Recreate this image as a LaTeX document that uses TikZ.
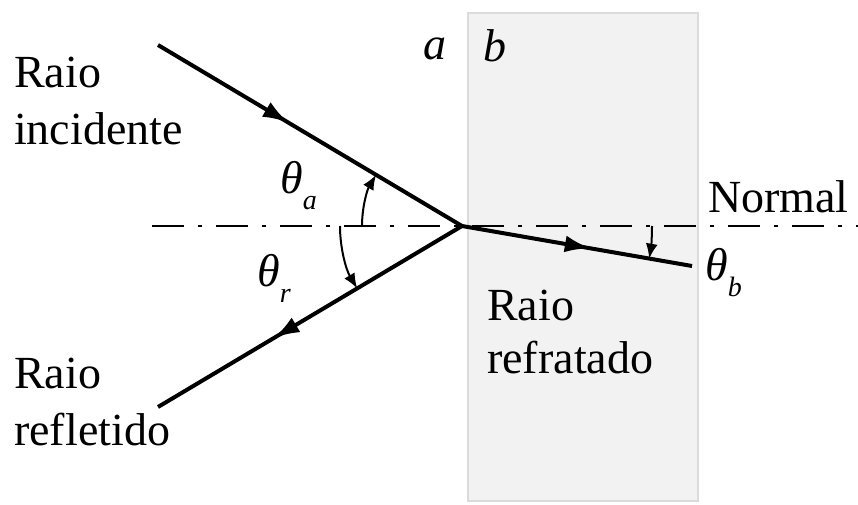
\documentclass[tikz,border=0pt]{standalone}
\usepackage{fontspec}
\setmainfont{Liberation Serif}
\usetikzlibrary{arrows.meta,decorations.markings}
\begin{document}
\begin{tikzpicture}[x=1pt,y=1pt,
  ray/.style={line width=4pt},
  midarrow/.style={postaction={decorate,decoration={markings,
     mark=at position #1 with {\arrow{Latex[length=26pt,width=17pt]}}}}},
  anglearc/.style={line width=2pt,-{Latex[length=15pt,width=12pt]}},
  lbl/.style={anchor=base west,inner sep=0pt,font=\fontsize{46}{55}\selectfont},
  normalline/.style={line width=2.4pt,dash pattern=on 32pt off 14pt on 4pt off 14pt}]
\useasboundingbox (0,0) rectangle (858,504);
% medium b
\node[draw=black!14,fill=black!5,line width=2pt,minimum width=230pt,minimum height=488pt,inner sep=0pt,anchor=south west] (box) at (467,2) {};
% points
\coordinate (I) at (462,278);
\coordinate (inc) at (158,459);
\coordinate (refl) at (158,97);
\coordinate (refr) at (692,238);
\coordinate (nL) at (152,278);
\coordinate (nR) at (858,278);
% normal
\draw[normalline] (nL) -- (nR);
% rays
\draw[ray,midarrow=0.43] (inc) -- (I);
\draw[ray,midarrow=0.62] (I) -- (refl);
\draw[ray,midarrow=0.56] (I) -- (refr);
% angle arcs
\draw[anglearc] (I) ++(180:100pt) arc[start angle=180,end angle=149.2,radius=100pt];
\draw[anglearc] (I) ++(180:122pt) arc[start angle=180,end angle=210.8,radius=122pt];
\draw[anglearc] (I) ++(0:190pt) arc[start angle=0,end angle=-9.9,radius=190pt];
% labels
\node[lbl] (inc1) at (14,416) {Raio};
\node[lbl] (inc2) at (14,359) {incidente};
\node[lbl] (ref1) at (14,116) {Raio};
\node[lbl] (ref2) at (14,59) {refletido};
\node[lbl] (rfr1) at (487,184) {Raio};
\node[lbl] (rfr2) at (487,131) {refratado};
\node[lbl] (nrm) at (708,291) {Normal};
\node[lbl] (la) at (423,444) {\itshape a};
\node[lbl] (lb) at (483,442) {\itshape b};
\node[lbl] (tha) at (280,310) {\itshape θ\raisebox{-16pt}{\fontsize{28}{28}\selectfont a}};
\node[lbl] (thr) at (257,218) {\itshape θ\raisebox{-16pt}{\fontsize{28}{28}\selectfont r}};
\node[lbl] (thb) at (705,224) {\itshape θ\raisebox{-16pt}{\fontsize{28}{28}\selectfont b}};
\end{tikzpicture}
\end{document}
